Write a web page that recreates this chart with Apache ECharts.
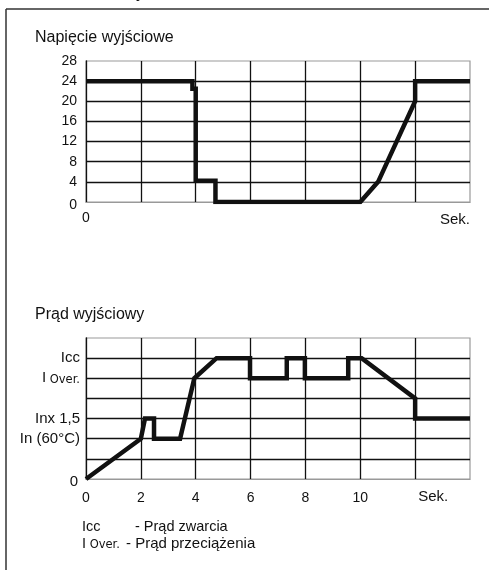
<!DOCTYPE html>
<html>
<head>
<meta charset="utf-8">
<script src="https://cdn.jsdelivr.net/npm/echarts@6/dist/echarts.min.js"></script>
<style>
  html, body { margin: 0; padding: 0; background: #fff; }
  #main { width: 489px; height: 570px; }
</style>
</head>
<body>
<div id="main"></div>
<script>
// Napiecie wyjsciowe (V) vs time (s)
var voltTime  = [0, 3.88, 3.88, 4.0, 4.0, 4.72, 4.72, 10, 10.65, 12, 12, 14];
var voltValue = [24, 24, 22.5, 22.5, 4.2, 4.2, 0, 0, 4, 20, 24, 24];

// Prad wyjsciowy (level index) vs time (s)
var currTime  = [0, 2, 2.15, 2.48, 2.48, 3.43, 3.95, 4.76, 5.98, 5.98, 7.32, 7.32, 7.98, 7.98, 9.56, 9.56, 10.05, 12, 12, 14];
var currValue = [0, 2, 3, 3, 2, 2, 5, 6, 6, 5, 5, 6, 6, 5, 5, 6, 6, 4, 3, 3];

// tick labels
var currLevelLabels = { 0: '{z|0}', 2: 'In (60°C)', 3: 'Inx 1,5', 5: '{i|I}{o| Over.}', 6: 'Icc' };
var timeLabels = { 0: '0', 2: '2', 4: '4', 6: '6', 8: '8', 10: '10' };

var FONT = 'Liberation Sans, Arial, sans-serif';
var SMALL = 'DejaVu Sans, sans-serif';

function zip(xs, ys) {
    var out = [];
    for (var i = 0; i < xs.length; i++) out.push([xs[i], ys[i]]);
    return out;
}

var chart = echarts.init(document.getElementById('main'));

var gridLine = { color: '#111', width: 1.3 };

var option = {
    animation: false,
    backgroundColor: '#fff',
    textStyle: { fontFamily: FONT, color: '#111' },
    grid: [
        { left: 86, right: 19, top: 61, height: 141, show: true, borderColor: '#999', borderWidth: 1.2 },
        { left: 86, right: 19, top: 338, height: 141, show: true, borderColor: '#999', borderWidth: 1.2 }
    ],
    xAxis: [{
        gridIndex: 0, type: 'value', min: 0, max: 14, interval: 2,
        axisLine: { show: true, lineStyle: { color: '#999', width: 1.2 } },
        axisTick: { show: false },
        axisLabel: {
            margin: 9, fontSize: 14, color: '#111', fontFamily: FONT,
            formatter: function (v) { return v === 0 ? '0' : ''; }
        },
        splitLine: { show: true, showMinLine: false, showMaxLine: false, lineStyle: gridLine }
    }, {
        gridIndex: 1, type: 'value', min: 0, max: 14, interval: 2,
        axisLine: { show: true, lineStyle: { color: '#999', width: 1.2 } },
        axisTick: { show: false },
        axisLabel: {
            margin: 12, fontSize: 14, color: '#111', fontFamily: FONT,
            formatter: function (v) { return timeLabels[v] || ''; }
        },
        splitLine: { show: true, showMinLine: false, showMaxLine: false, lineStyle: gridLine }
    }],
    yAxis: [{
        gridIndex: 0, type: 'value', min: 0, max: 28, interval: 4,
        axisLine: { show: true, lineStyle: { color: '#111', width: 1.3 } },
        axisTick: { show: false },
        axisLabel: {
            margin: 9, fontSize: 14, color: '#111', fontFamily: FONT,
            formatter: function (v) { return v === 0 ? '{z|0}' : String(v); },
            rich: { z: { fontSize: 14, color: '#111', fontFamily: FONT, padding: [6, 0, 0, 0] } }
        },
        splitLine: { show: true, showMinLine: false, showMaxLine: false, lineStyle: gridLine }
    }, {
        gridIndex: 1, type: 'value', min: 0, max: 7, interval: 1,
        axisLine: { show: true, lineStyle: { color: '#111', width: 1.3 } },
        axisTick: { show: false },
        axisLabel: {
            margin: 6, fontSize: 15, color: '#111', fontFamily: FONT,
            formatter: function (v) { return currLevelLabels[v] || ''; },
            rich: {
                z: { fontSize: 15, color: '#111', fontFamily: FONT, padding: [6, 2, 0, 0] },
                i: { fontSize: 15, color: '#111', fontFamily: FONT },
                o: { fontSize: 11.5, color: '#111', fontFamily: SMALL, padding: [3, 0, 0, 0] }
            }
        },
        splitLine: { show: true, showMinLine: false, showMaxLine: false, lineStyle: gridLine }
    }],
    series: [{
        type: 'line', xAxisIndex: 0, yAxisIndex: 0,
        data: zip(voltTime, voltValue),
        showSymbol: false, symbol: 'none',
        lineStyle: { color: '#111', width: 4.5, join: 'miter', cap: 'butt' }
    }, {
        type: 'line', xAxisIndex: 1, yAxisIndex: 1,
        data: zip(currTime, currValue),
        showSymbol: false, symbol: 'none',
        lineStyle: { color: '#111', width: 4.5, join: 'miter', cap: 'butt' }
    }]
};

chart.setOption(option);

// texts placed next to the axes
var sekTop = chart.convertToPixel({ xAxisIndex: 0 }, 14);
var sekBottom = chart.convertToPixel({ xAxisIndex: 1 }, 12);

chart.setOption({
    graphic: [
        // frame
        { type: 'line', shape: { x1: 6, y1: 9, x2: 489, y2: 9 }, style: { stroke: '#333', lineWidth: 1.5 } },
        { type: 'line', shape: { x1: 6, y1: 9, x2: 6, y2: 570 }, style: { stroke: '#333', lineWidth: 1.5 } },
        // cut heading above the frame
        { type: 'text', left: 136, top: -15, style: { text: 'y', font: '17px ' + FONT, fill: '#111' } },
        // titles
        { type: 'text', x: 35, y: 38, style: { text: 'Napięcie wyjściowe', font: '16px ' + FONT, fill: '#111', verticalAlign: 'middle' } },
        { type: 'text', x: 35, y: 315, style: { text: 'Prąd wyjściowy', font: '16px ' + FONT, fill: '#111', verticalAlign: 'middle' } },
        // Sek.
        { type: 'text', x: sekTop, y: 220, style: { text: 'Sek.', font: '15px ' + FONT, fill: '#111', align: 'right', verticalAlign: 'middle' } },
        { type: 'text', x: sekBottom + 3, y: 497, style: { text: 'Sek.', font: '15px ' + FONT, fill: '#111', align: 'left', verticalAlign: 'middle' } },
        // legend notes
        { type: 'text', x: 82, y: 527, style: { text: 'Icc', font: '14.5px ' + FONT, fill: '#111', verticalAlign: 'middle' } },
        { type: 'text', x: 135, y: 527, style: { text: '- Prąd zwarcia', font: '14.5px ' + FONT, fill: '#111', verticalAlign: 'middle' } },
        { type: 'text', x: 82, y: 544, style: {
            text: '{i|I}{o| Over.}', fill: '#111', verticalAlign: 'middle',
            rich: {
                i: { font: '14.5px ' + FONT, fill: '#111' },
                o: { font: '11.5px ' + SMALL, fill: '#111', padding: [3, 0, 0, 0] }
            }
        } },
        { type: 'text', x: 126, y: 544, style: { text: '- Prąd przeciążenia', font: '15px ' + FONT, fill: '#111', verticalAlign: 'middle' } }
    ]
});
</script>
</body>
</html>
